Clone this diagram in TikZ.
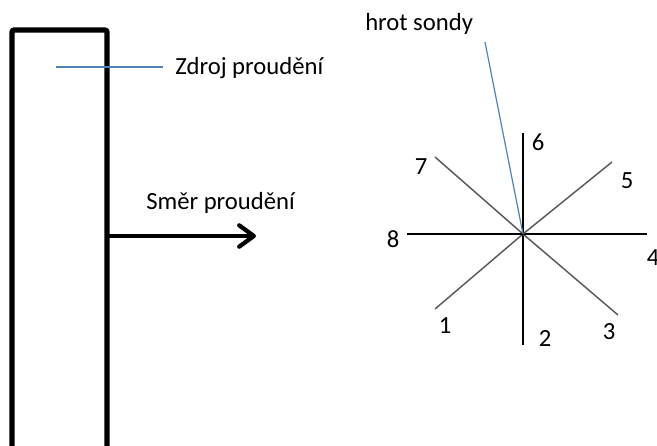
\documentclass[tikz,border=0pt]{standalone}
\usepackage{fontspec}
\setmainfont{Carlito}
\usetikzlibrary{arrows.meta}

\definecolor{leaderblue}{RGB}{79,129,189}
\definecolor{raygray}{RGB}{90,90,90}

\tikzset{
  lbl/.style={inner sep=0pt, font=\fontsize{18.5}{22}\selectfont},
  leader/.style={leaderblue, line width=0.9pt},
  wall/.style={line width=3.8pt, rounded corners=1.5pt},
}

\begin{document}
\begin{tikzpicture}[x=0.75pt,y=-0.75pt]
\useasboundingbox (0,0) rectangle (657,446);

% zdroj (stena)
\draw[wall] (12,452) -- (12,30) -- (107,30) -- (107,452);
\node[lbl, anchor=base west] (zdroj) at (175,74) {Zdroj proudění};
\coordinate (zdrojin) at (56,67);
\coordinate (zdrojout) at (163,67);
\draw[leader] (zdrojin) -- (zdrojout);

% smer proudeni
\coordinate (flowA) at (107,236);
\coordinate (flowB) at (256,236);
\node[lbl, anchor=base west] (smer) at (146,209) {Směr proudění};
\draw[line width=3.2pt, line cap=round, -{Straight Barb[length=11pt,width=16pt,round]}] (flowA) -- (flowB);

% sonda, 8 smeru
\coordinate (tip) at (523,234);
\foreach \n/\rx/\ry/\lx/\ly/\c in {1/435/309/445/326/raygray, 2/523/345/545/338/black,
    3/618/315/609/332/raygray, 4/647/234/653/258/black, 5/612/162/627/181/raygray,
    6/523/133/538/142/black, 7/435/157/421/167/raygray, 8/407/234/393/239/black}
{
  \coordinate (r\n) at (\rx,\ry);
  \draw[\c, line width=1.1pt] (tip) -- (r\n);
  \node[lbl] (l\n) at (\lx,\ly) {\n};
}

\node[lbl, anchor=base west] (hrot) at (365,30) {hrot sondy};
\coordinate (hrotin) at (485,42);
\draw[leader] (hrotin) -- (tip);
\end{tikzpicture}
\end{document}
